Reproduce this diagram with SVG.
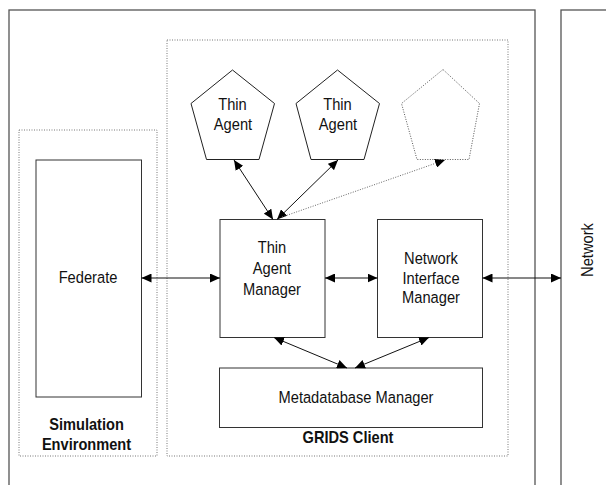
<svg xmlns="http://www.w3.org/2000/svg" width="606" height="485" viewBox="0 0 606 485">
  <style>
    .frame { fill: none; stroke: #555; stroke-width: 1.3; }
    .box { fill: #fff; stroke: #333; stroke-width: 1; }
    .group { fill: none; stroke: #777; stroke-width: 1; stroke-dasharray: 1 1.5; }
    .agent { fill: #fff; stroke: #222; stroke-width: 1; }
    .ghost { fill: none; stroke: #555; stroke-width: 1; stroke-dasharray: 1 1.5; }
    .link { fill: none; stroke: #111; stroke-width: 1; }
    .dotlink { fill: none; stroke: #666; stroke-width: 1; stroke-dasharray: 1 1.5; }
    text { font-family: "Liberation Sans", Arial, sans-serif; font-size: 16.5px; fill: #111; text-anchor: middle; }
    .title { font-weight: bold; }
  </style>
  <defs>
    <marker id="head" markerUnits="userSpaceOnUse" markerWidth="11" markerHeight="9" refX="10" refY="4.5" orient="auto-start-reverse">
      <path d="M0,0 L10,4.5 L0,9 Z" fill="#000"/>
    </marker>
  </defs>

  <!-- outer host frame and network column -->
  <rect id="host" class="frame" x="9" y="10" width="526" height="500"/>
  <g id="network">
    <rect class="frame" x="561" y="10" width="100" height="500"/>
    <text transform="translate(592.5,250) rotate(-90) scale(0.89,1)">Network</text>
  </g>

  <!-- dotted groupings -->
  <g id="simulation-environment">
    <rect class="group" x="19" y="130" width="138" height="326"/>
    <text class="title" transform="translate(86.5,429.5) scale(0.885,1)">Simulation</text>
    <text class="title" transform="translate(86.5,450) scale(0.885,1)">Environment</text>
  </g>
  <g id="grids-client">
    <rect class="group" x="167" y="40" width="341" height="416"/>
    <text class="title" transform="translate(348,443) scale(0.885,1)">GRIDS Client</text>
  </g>

  <!-- nodes -->
  <g id="federate">
    <rect class="box" x="36" y="160" width="105.5" height="237"/>
    <text transform="translate(88,283) scale(0.89,1)">Federate</text>
  </g>
  <g id="thin-agent-1">
    <polygon class="agent" points="232.5,70 274.5,103.5 259,159.5 206.5,159.5 191,103.5"/>
    <text transform="translate(232.5,110) scale(0.89,1)">Thin</text>
    <text transform="translate(233,130) scale(0.89,1)">Agent</text>
  </g>
  <g id="thin-agent-2">
    <polygon class="agent" points="337.5,70 379.5,103.5 364,159.5 311,159.5 296,103.5"/>
    <text transform="translate(337.5,110) scale(0.89,1)">Thin</text>
    <text transform="translate(338,130) scale(0.89,1)">Agent</text>
  </g>
  <g id="thin-agent-more">
    <polygon class="ghost" points="443,69.5 479.5,103.5 469,159.5 417,159.5 401.5,103.5"/>
  </g>
  <g id="thin-agent-manager">
    <rect class="box" x="220" y="219.5" width="105" height="118"/>
    <text transform="translate(272,253) scale(0.89,1)">Thin</text>
    <text transform="translate(272,274) scale(0.89,1)">Agent</text>
    <text transform="translate(272,294.5) scale(0.89,1)">Manager</text>
  </g>
  <g id="network-interface-manager">
    <rect class="box" x="377.5" y="219.5" width="105" height="118"/>
    <text transform="translate(431,263.5) scale(0.89,1)">Network</text>
    <text transform="translate(431,283.5) scale(0.89,1)">Interface</text>
    <text transform="translate(431,303) scale(0.89,1)">Manager</text>
  </g>
  <g id="metadatabase-manager">
    <rect class="box" x="219.5" y="368" width="263" height="59.5"/>
    <text transform="translate(356,403) scale(0.89,1)">Metadatabase Manager</text>
  </g>

  <!-- connectors -->
  <g id="connectors">
    <line class="link" x1="141.5" y1="278" x2="220" y2="278" marker-start="url(#head)" marker-end="url(#head)"/>
    <line class="link" x1="325" y1="278" x2="377.5" y2="278" marker-start="url(#head)" marker-end="url(#head)"/>
    <line class="link" x1="482.5" y1="278" x2="561" y2="278" marker-start="url(#head)" marker-end="url(#head)"/>
    <line class="link" x1="234" y1="160" x2="273" y2="219.5" marker-start="url(#head)" marker-end="url(#head)"/>
    <line class="link" x1="338" y1="160" x2="277" y2="219.5" marker-start="url(#head)" marker-end="url(#head)"/>
    <line class="dotlink" x1="282" y1="217" x2="445" y2="160" marker-end="url(#head)"/>
    <line class="link" x1="274" y1="337.5" x2="347" y2="368" marker-start="url(#head)" marker-end="url(#head)"/>
    <line class="link" x1="429" y1="337.5" x2="355" y2="368" marker-start="url(#head)" marker-end="url(#head)"/>
  </g>
</svg>
